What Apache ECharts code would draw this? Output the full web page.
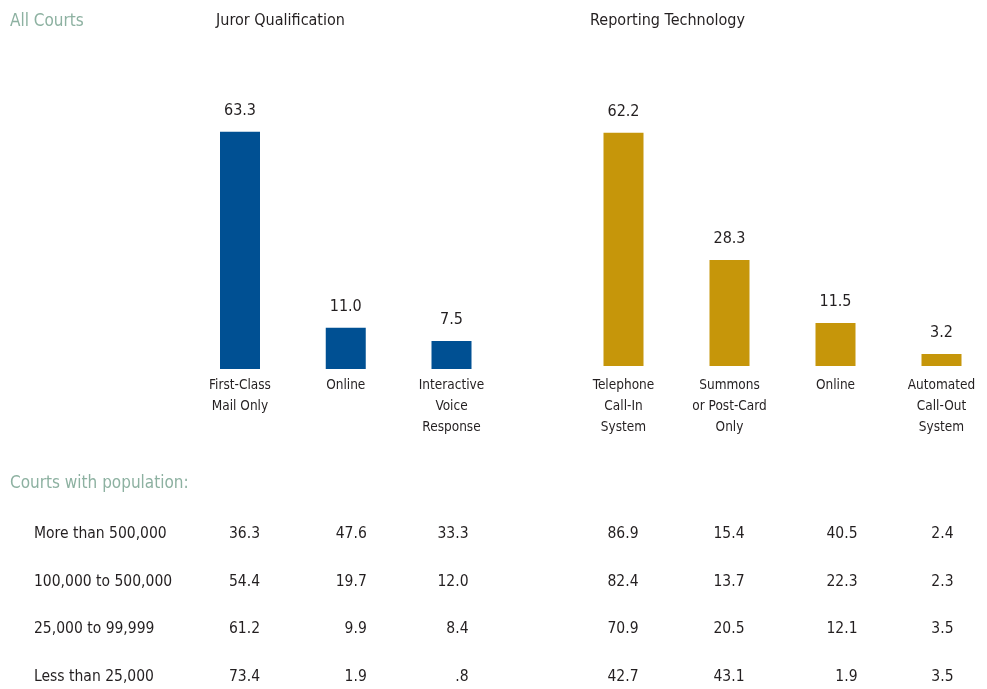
<!DOCTYPE html>
<html>
<head>
<meta charset="utf-8">
<script src="https://cdn.jsdelivr.net/npm/echarts@6/dist/echarts.min.js"></script>
<style>
html,body{margin:0;padding:0;background:#fff;}
#chart{width:987px;height:689px;}
</style>
</head>
<body>
<div id="chart"></div>
<script>
// ---- data ----
const qualCategories = ['First-Class\nMail Only', 'Online', 'Interactive\nVoice\nResponse'];
const qualValues = [63.3, 11.0, 7.5];
const repCategories = ['Telephone\nCall-In\nSystem', 'Summons\nor Post-Card\nOnly', 'Online', 'Automated\nCall-Out\nSystem'];
const repValues = [62.2, 28.3, 11.5, 3.2];
const populationRows = ['More than 500,000', '100,000 to 500,000', '25,000 to 99,999', 'Less than 25,000'];
const qualByPopulation = [
  [36.3, 47.6, 33.3],
  [54.4, 19.7, 12.0],
  [61.2, 9.9, 8.4],
  [73.4, 1.9, 0.8]
];
const repByPopulation = [
  [86.9, 15.4, 40.5, 2.4],
  [82.4, 13.7, 22.3, 2.3],
  [70.9, 20.5, 12.1, 3.5],
  [42.7, 43.1, 1.9, 3.5]
];
const titleMain = 'All Courts';
const titleQual = 'Juror Qualification';
const titleRep = 'Reporting Technology';
const titlePop = 'Courts with population:';

// ---- style / layout ----
const FONT = '"DejaVu Sans Condensed", "Liberation Sans Narrow", sans-serif';
const TEXT = '#231f20';
const GREEN = '#8db1a1';
const BLUE = '#005093';
const GOLD = '#c6960a';
const qualOffsets = [20, 21, 17];
const repOffsets = [15, 15, 22, 12];

function fmt(v) {
  const s = v.toFixed(1);
  return s.charAt(0) === '0' ? s.slice(1) : s;
}

function tableData(matrix, offsets) {
  const out = [];
  matrix.forEach((row, r) => {
    row.forEach((v, c) => {
      out.push({ value: [c, r, v], label: { offset: [offsets[c], 0] } });
    });
  });
  return out;
}

const chart = echarts.init(document.getElementById('chart'), null, { renderer: 'canvas' });

const hiddenValueAxis = (gridIndex) => ({
  type: 'value', gridIndex, min: 0, max: 80,
  show: false, splitLine: { show: false }
});

const catAxisStyle = {
  boundaryGap: false,
  axisLine: { show: false }, axisTick: { show: false }, splitLine: { show: false }
};

const titleStyle = (size, color) => ({
  fontFamily: FONT, fontSize: size, fontWeight: 'normal', color: color, lineHeight: size + 4
});

const option = {
  animation: false,
  backgroundColor: '#fff',
  textStyle: { fontFamily: FONT },
  title: [
    { text: titleMain, left: 10, top: 11, padding: 0, textStyle: titleStyle(17, GREEN) },
    { text: titleQual, left: 280.5, top: 11, padding: 0, textAlign: 'center', textStyle: titleStyle(16, TEXT) },
    { text: titleRep, left: 667.5, top: 11, padding: 0, textAlign: 'center', textStyle: titleStyle(16, TEXT) },
    { text: titlePop, left: 10, top: 473, padding: 0, textStyle: titleStyle(17, GREEN) }
  ],
  grid: [
    { left: 240, top: 69, width: 211.5, height: 300 },
    { left: 623.5, top: 66, width: 318, height: 300 },
    { left: 240, top: 534, width: 211.5, height: 143 },
    { left: 623.5, top: 534, width: 318, height: 143 }
  ],
  xAxis: [
    Object.assign({ type: 'category', gridIndex: 0, data: qualCategories,
      axisLabel: { interval: 0, margin: 6, fontFamily: FONT, fontSize: 13.5, color: TEXT, lineHeight: 21, verticalAlign: 'top' } }, catAxisStyle),
    Object.assign({ type: 'category', gridIndex: 1, data: repCategories,
      axisLabel: { interval: 0, margin: 9, fontFamily: FONT, fontSize: 13.5, color: TEXT, lineHeight: 21, verticalAlign: 'top' } }, catAxisStyle),
    Object.assign({ type: 'category', gridIndex: 2, data: qualCategories, axisLabel: { show: false } }, catAxisStyle),
    Object.assign({ type: 'category', gridIndex: 3, data: repCategories, axisLabel: { show: false } }, catAxisStyle)
  ],
  yAxis: [
    hiddenValueAxis(0),
    hiddenValueAxis(1),
    Object.assign({ type: 'category', gridIndex: 2, data: populationRows, inverse: true,
      axisLabel: { interval: 0, align: 'left', margin: 206, fontFamily: FONT, fontSize: 15.5, color: TEXT } }, catAxisStyle),
    Object.assign({ type: 'category', gridIndex: 3, data: populationRows, inverse: true,
      axisLabel: { show: false } }, catAxisStyle)
  ],
  series: [
    {
      type: 'bar', xAxisIndex: 0, yAxisIndex: 0, data: qualValues,
      barWidth: 40, itemStyle: { color: BLUE },
      label: { show: true, position: 'top', distance: 10, fontFamily: FONT, fontSize: 16, color: TEXT, lineHeight: 22,
        formatter: p => fmt(p.value) }
    },
    {
      type: 'bar', xAxisIndex: 1, yAxisIndex: 1, data: repValues,
      barWidth: 40, itemStyle: { color: GOLD },
      label: { show: true, position: 'top', distance: 10, fontFamily: FONT, fontSize: 16, color: TEXT, lineHeight: 22,
        formatter: p => fmt(p.value) }
    },
    {
      type: 'scatter', xAxisIndex: 2, yAxisIndex: 2, data: tableData(qualByPopulation, qualOffsets),
      symbolSize: 1, itemStyle: { color: 'rgba(0,0,0,0)', opacity: 1 },
      label: { show: true, position: 'inside', align: 'right', verticalAlign: 'middle',
        fontFamily: FONT, fontSize: 15.5, color: TEXT, formatter: p => fmt(p.value[2]) }
    },
    {
      type: 'scatter', xAxisIndex: 3, yAxisIndex: 3, data: tableData(repByPopulation, repOffsets),
      symbolSize: 1, itemStyle: { color: 'rgba(0,0,0,0)', opacity: 1 },
      label: { show: true, position: 'inside', align: 'right', verticalAlign: 'middle',
        fontFamily: FONT, fontSize: 15.5, color: TEXT, formatter: p => fmt(p.value[2]) }
    }
  ]
};

chart.setOption(option);
</script>
</body>
</html>
